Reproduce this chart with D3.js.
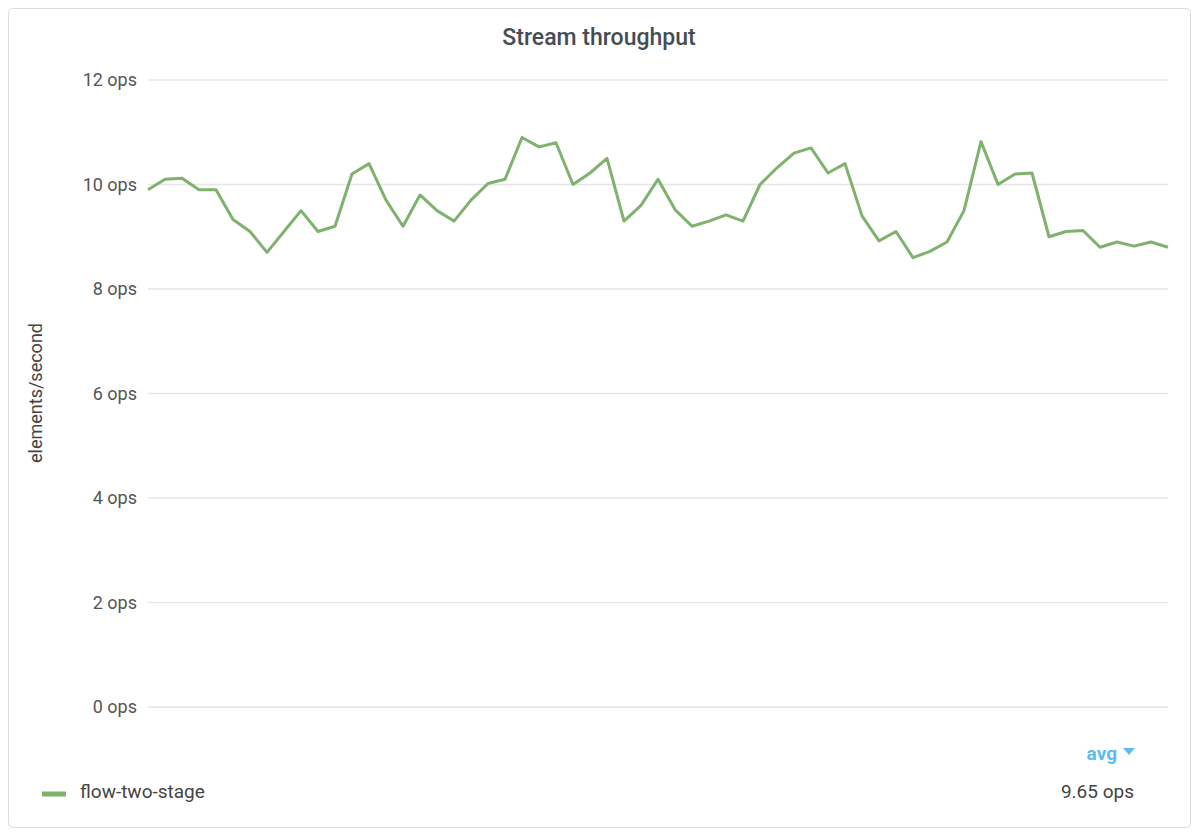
<!DOCTYPE html>
<html><head><meta charset="utf-8">
<script src="https://cdn.jsdelivr.net/npm/d3@7"></script>
<style>body{margin:0;background:#fff;font-family:Roboto,"Noto Sans",sans-serif;}</style>
</head><body><svg id="c" width="1200" height="836"></svg>
<script>
const seriesName = "flow-two-stage";
const values = [9.9,10.1,10.12,9.9,9.9,9.33,9.1,8.7,9.1,9.5,
9.1,9.2,10.2,10.4,9.7,9.2,9.8,9.5,9.3,9.7,
10.02,10.1,10.9,10.72,10.8,10.0,10.22,10.5,9.3,9.6,
10.1,9.52,9.2,9.3,9.42,9.3,10.0,10.32,10.6,10.7,
10.22,10.4,9.4,8.92,9.1,8.6,8.72,8.9,9.5,10.82,
10.0,10.2,10.22,9.0,9.1,9.12,8.8,8.9,8.82,8.9,8.8];
const yTicks = [0,2,4,6,8,10,12];
const avgLabel = "9.65 ops";

const svg = d3.select("#c");
svg.append("rect").attr("x",8.5).attr("y",8.5).attr("width",1182).attr("height",819)
  .attr("rx",4).attr("fill","#fff").attr("stroke","#dcdcdc");
svg.append("text").attr("x",599).attr("y",45).attr("text-anchor","middle")
  .attr("font-size",23).attr("font-weight",500).attr("fill","#464c54").text("Stream throughput");

const x = d3.scaleLinear().domain([0,values.length-1]).range([148,1168]);
const y = d3.scaleLinear().domain([0,12]).range([707,80]);

const g = svg.append("g");
yTicks.forEach(t=>{
  g.append("line").attr("x1",148).attr("x2",1168).attr("y1",y(t)).attr("y2",y(t))
    .attr("stroke","#e6e6e6").attr("stroke-width",1.5);
  g.append("text").attr("x",137).attr("y",y(t)+6).attr("text-anchor","end")
    .attr("font-size",18).attr("fill","#555").text(t+" ops");
});
svg.append("text").attr("transform","translate(42,393) rotate(-90)").attr("text-anchor","middle")
  .attr("font-size",18).attr("fill","#444").text("elements/second");

svg.append("path").datum(values)
  .attr("d",d3.line().x((d,i)=>x(i)).y(d=>y(d)))
  .attr("fill","none").attr("stroke","#7eb26d").attr("stroke-width",3).attr("stroke-linejoin","round");

svg.append("text").attr("x",1117).attr("y",760).attr("text-anchor","end")
  .attr("font-size",19).attr("font-weight",700).attr("fill","#5bbcf0").text("avg");
svg.append("path").attr("d","M1123,748 L1135,748 L1129,755 Z").attr("fill","#5bbcf0");
svg.append("line").attr("x1",42).attr("x2",66).attr("y1",794).attr("y2",794)
  .attr("stroke","#7eb26d").attr("stroke-width",5);
svg.append("text").attr("x",80).attr("y",798).attr("font-size",19).attr("fill","#444").text(seriesName);
svg.append("text").attr("x",1134).attr("y",798).attr("text-anchor","end")
  .attr("font-size",19).attr("fill","#444").text(avgLabel);
</script></body></html>
